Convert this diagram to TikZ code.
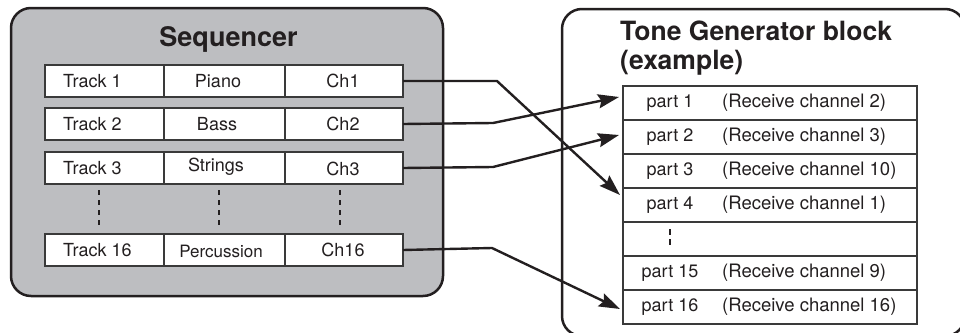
\documentclass[tikz,border=0pt]{standalone}
\usepackage{fontspec}
\setmainfont{TeX Gyre Heros}
\usetikzlibrary{arrows.meta}
\definecolor{boxgray}{HTML}{BDBEC1}
\definecolor{ink}{HTML}{231F20}
\definecolor{cellline}{HTML}{3A3A3A}
\begin{document}
\begin{tikzpicture}[x=1pt,y=-1pt,
  outerbox/.style={draw=ink,line width=2.5pt,rounded corners=20pt},
  cellbox/.style={draw=cellline,fill=white,line width=1.3pt,minimum height=32pt,inner sep=0pt,outer sep=0pt},
  celltext/.style={font=\fontsize{18}{20}\selectfont,text=ink,inner sep=0pt},
  rectext/.style={font=\fontsize{18.5}{20}\selectfont,text=ink,inner sep=0pt,anchor=west},
  partrow/.style={draw=cellline,fill=white,line width=1.3pt,minimum width=294pt,minimum height=34pt,inner sep=0pt,outer sep=0pt},
  title/.style={font=\fontsize{27}{28}\selectfont\bfseries,text=ink,inner sep=0pt},
  dotline/.style={draw=ink,line width=1.2pt,dash pattern=on 5pt off 5pt},
  conn/.style={draw=ink,line width=2.4pt,-{Stealth[length=21pt,width=14pt,inset=3pt]}}
]
\useasboundingbox (0,0) rectangle (960,332);
% Sequencer block
\draw[outerbox,fill=boxgray] (11,8) rectangle (443,296);
\node[title,anchor=base] (seqtitle) at (228.5,46) {Sequencer};
% rows
\foreach \r/\y in {1/81,2/124,3/168,16/250}{
  \node[cellbox,minimum width=119pt] (t\r) at (104.5,\y) {};
  \node[cellbox,minimum width=121pt] (i\r) at (224.5,\y) {};
  \node[cellbox,minimum width=118pt] (c\r) at (344,\y) {};
}
\node[celltext,anchor=west] (tt1) at (63,81) {Track 1};
\node[celltext,anchor=west] (tt2) at (63,124) {Track 2};
\node[celltext,anchor=west] (tt3) at (63,168) {Track 3};
\node[celltext,anchor=west] (tt16) at (63,250) {Track 16};
\node[celltext] (it1) at (218,81) {Piano};
\node[celltext] (it2) at (217,124) {Bass};
\node[celltext] (it3) at (216,167) {Strings};
\node[celltext,font=\fontsize{17}{20}\selectfont] (it16) at (221,251) {Percussion};
\node[celltext] (ct1) at (343,81) {Ch1};
\node[celltext] (ct2) at (343,124) {Ch2};
\node[celltext] (ct3) at (343,169) {Ch3};
\node[celltext] (ct16) at (343,250) {Ch16};
\foreach \x in {99,219,340}{
  \draw[dotline] (\x,190) -- (\x,228);
}
% Tone generator block
\draw[outerbox] (562,9) rectangle (965,336);
\node[title,anchor=base west,font=\fontsize{26.5}{28}\selectfont\bfseries] (tgtitle1) at (620,40) {Tone Generator block};
\node[title,anchor=base west,font=\fontsize{26.5}{28}\selectfont\bfseries] (tgtitle2) at (620,69) {(example)};
\foreach \n/\y in {1/103,2/137,3/171,4/205,d/239,15/273,16/307}{
  \node[partrow] (p\n) at (770,\y) {};
}
\foreach \n/\y/\c in {1/103/2,2/137/3,3/171/10,4/205/1,15/273/9,16/307/16}{
  \node[celltext] (pl\n) at (670,\y) {part \n};
  \node[rectext] (pr\n) at (722,\y) {(Receive channel \c)};
}
\draw[dotline,dash pattern=on 6pt off 4pt] (670,229) -- (670,246);
% connectors
\coordinate (b1) at (497,81);
\coordinate (b2) at (493,123);
\coordinate (b3) at (493,167);
\coordinate (b16) at (492,248);
\coordinate (e1) at (620,195);
\coordinate (e2) at (619,97);
\coordinate (e3) at (619,135);
\coordinate (e16) at (620,309);
\draw[conn] (c1.east) -- (b1) -- (e1);
\draw[conn] (c2.east) -- (b2) -- (e2);
\draw[conn] (c3.east) -- (b3) -- (e3);
\draw[conn] (c16.east) -- (b16) -- (e16);
\end{tikzpicture}
\end{document}
